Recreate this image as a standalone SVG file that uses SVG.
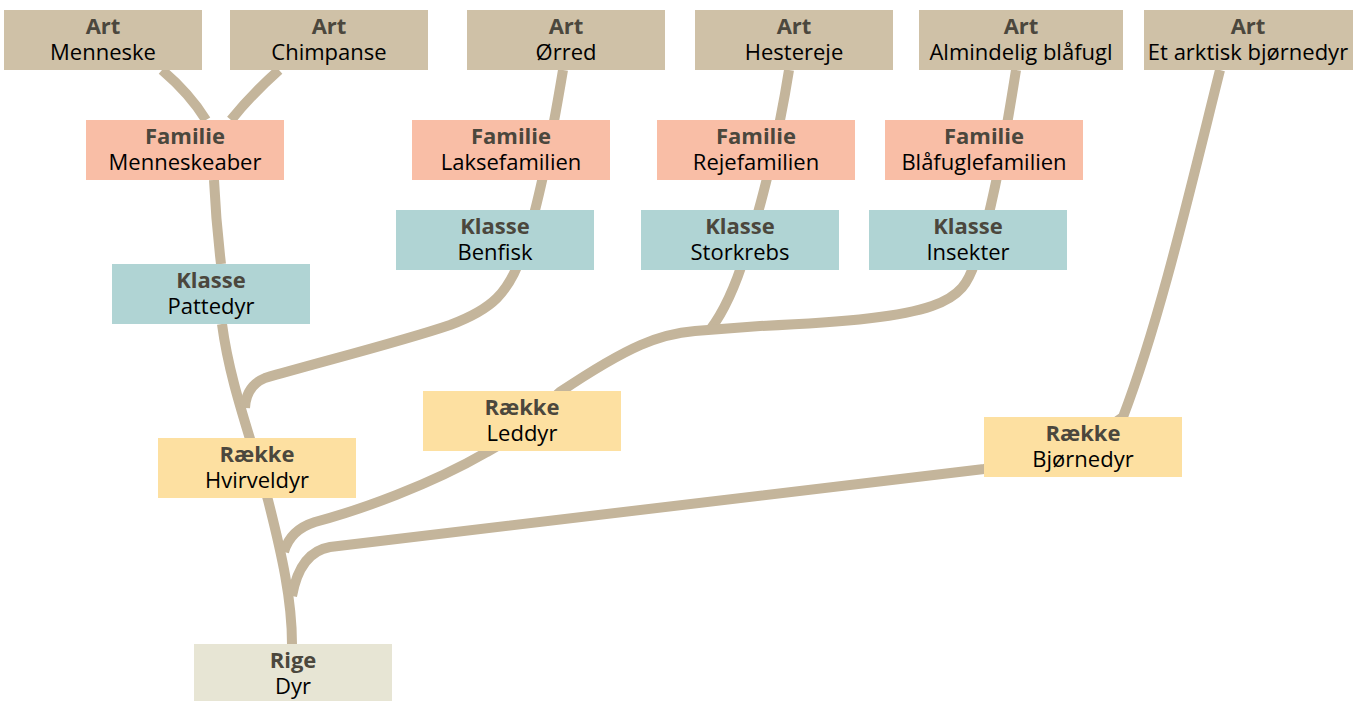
<svg xmlns="http://www.w3.org/2000/svg" width="1362" height="701" viewBox="0 0 1362 701">
<style>
.lk{fill:none;stroke:#c4b59b;stroke-width:10;stroke-linecap:butt}
text{font-family:"Open Sans","Noto Sans",sans-serif;font-size:22px;text-anchor:middle}
.h{font-weight:bold;fill:#4b473d}
.n{fill:#000}
.art{fill:#cfc1a7}
.fam{fill:#f9bea6}
.kl{fill:#b0d4d4}
.rk{fill:#fde0a1}
.rg{fill:#e7e5d4}
</style>
<rect width="1362" height="701" fill="#fff"/>
<g id="connectors">
<path class="lk" d="M162,70 Q190,94 206,120"/>
<path class="lk" d="M279,70 Q252,94 231,120"/>
<path class="lk" d="M214,180 Q216,222 221,264"/>
<path class="lk" d="M222,324 C230,385 252,440 268,500 C282,555 292,600 292,644"/>
<path class="lk" d="M563,70 C553,130 540,200 525,245 C510,295 490,310 450,325 C400,342 320,362 265,378 Q246,386 245,408"/>
<path class="lk" d="M789,70 C778,140 760,210 748,245 C738,280 725,310 710,330"/>
<path class="lk" d="M1016,70 C1005,140 990,220 975,262 C962,302 945,318 760,326 L695,331 C660,334 630,345 560,392 C530,420 510,440 487,452 C430,485 360,510 315,522 Q290,530 284,552"/>
<path class="lk" d="M1220,70 C1190,190 1160,320 1123,417 C1080,450 1030,462 984,469 L330,547 Q300,552 292,596"/>
</g>
<g id="art-menneske"><rect class="art" x="4" y="10" width="198" height="60"/><text x="103" y="34" class="h">Art</text><text x="103" y="60" class="n">Menneske</text></g>
<g id="art-chimpanse"><rect class="art" x="230" y="10" width="198" height="60"/><text x="329" y="34" class="h">Art</text><text x="329" y="60" class="n">Chimpanse</text></g>
<g id="art-orred"><rect class="art" x="467" y="10" width="198" height="60"/><text x="566" y="34" class="h">Art</text><text x="566" y="60" class="n">Ørred</text></g>
<g id="art-hestereje"><rect class="art" x="695" y="10" width="198" height="60"/><text x="794" y="34" class="h">Art</text><text x="794" y="60" class="n">Hestereje</text></g>
<g id="art-blaafugl"><rect class="art" x="919" y="10" width="204" height="60"/><text x="1021" y="34" class="h">Art</text><text x="1021" y="60" class="n">Almindelig blåfugl</text></g>
<g id="art-bjornedyr"><rect class="art" x="1144" y="10" width="209" height="60"/><text x="1248" y="34" class="h">Art</text><text x="1248" y="60" class="n">Et arktisk bjørnedyr</text></g>
<g id="fam-menneskeaber"><rect class="fam" x="86" y="120" width="198" height="60"/><text x="185" y="144" class="h">Familie</text><text x="185" y="170" class="n">Menneskeaber</text></g>
<g id="fam-laks"><rect class="fam" x="412" y="120" width="198" height="60"/><text x="511" y="144" class="h">Familie</text><text x="511" y="170" class="n">Laksefamilien</text></g>
<g id="fam-reje"><rect class="fam" x="657" y="120" width="198" height="60"/><text x="756" y="144" class="h">Familie</text><text x="756" y="170" class="n">Rejefamilien</text></g>
<g id="fam-blaafugle"><rect class="fam" x="885" y="120" width="198" height="60"/><text x="984" y="144" class="h">Familie</text><text x="984" y="170" class="n">Blåfuglefamilien</text></g>
<g id="kl-benfisk"><rect class="kl" x="396" y="210" width="198" height="60"/><text x="495" y="234" class="h">Klasse</text><text x="495" y="260" class="n">Benfisk</text></g>
<g id="kl-storkrebs"><rect class="kl" x="641" y="210" width="198" height="60"/><text x="740" y="234" class="h">Klasse</text><text x="740" y="260" class="n">Storkrebs</text></g>
<g id="kl-insekter"><rect class="kl" x="869" y="210" width="198" height="60"/><text x="968" y="234" class="h">Klasse</text><text x="968" y="260" class="n">Insekter</text></g>
<g id="kl-pattedyr"><rect class="kl" x="112" y="264" width="198" height="60"/><text x="211" y="288" class="h">Klasse</text><text x="211" y="314" class="n">Pattedyr</text></g>
<g id="rk-hvirveldyr"><rect class="rk" x="158" y="438" width="198" height="60"/><text x="257" y="462" class="h">Række</text><text x="257" y="488" class="n">Hvirveldyr</text></g>
<g id="rk-leddyr"><rect class="rk" x="423" y="391" width="198" height="60"/><text x="522" y="415" class="h">Række</text><text x="522" y="441" class="n">Leddyr</text></g>
<g id="rk-bjornedyr"><rect class="rk" x="984" y="417" width="198" height="60"/><text x="1083" y="441" class="h">Række</text><text x="1083" y="467" class="n">Bjørnedyr</text></g>
<g id="rige-dyr"><rect class="rg" x="194" y="644" width="198" height="57"/><text x="293" y="668" class="h">Rige</text><text x="293" y="694" class="n">Dyr</text></g>
</svg>
